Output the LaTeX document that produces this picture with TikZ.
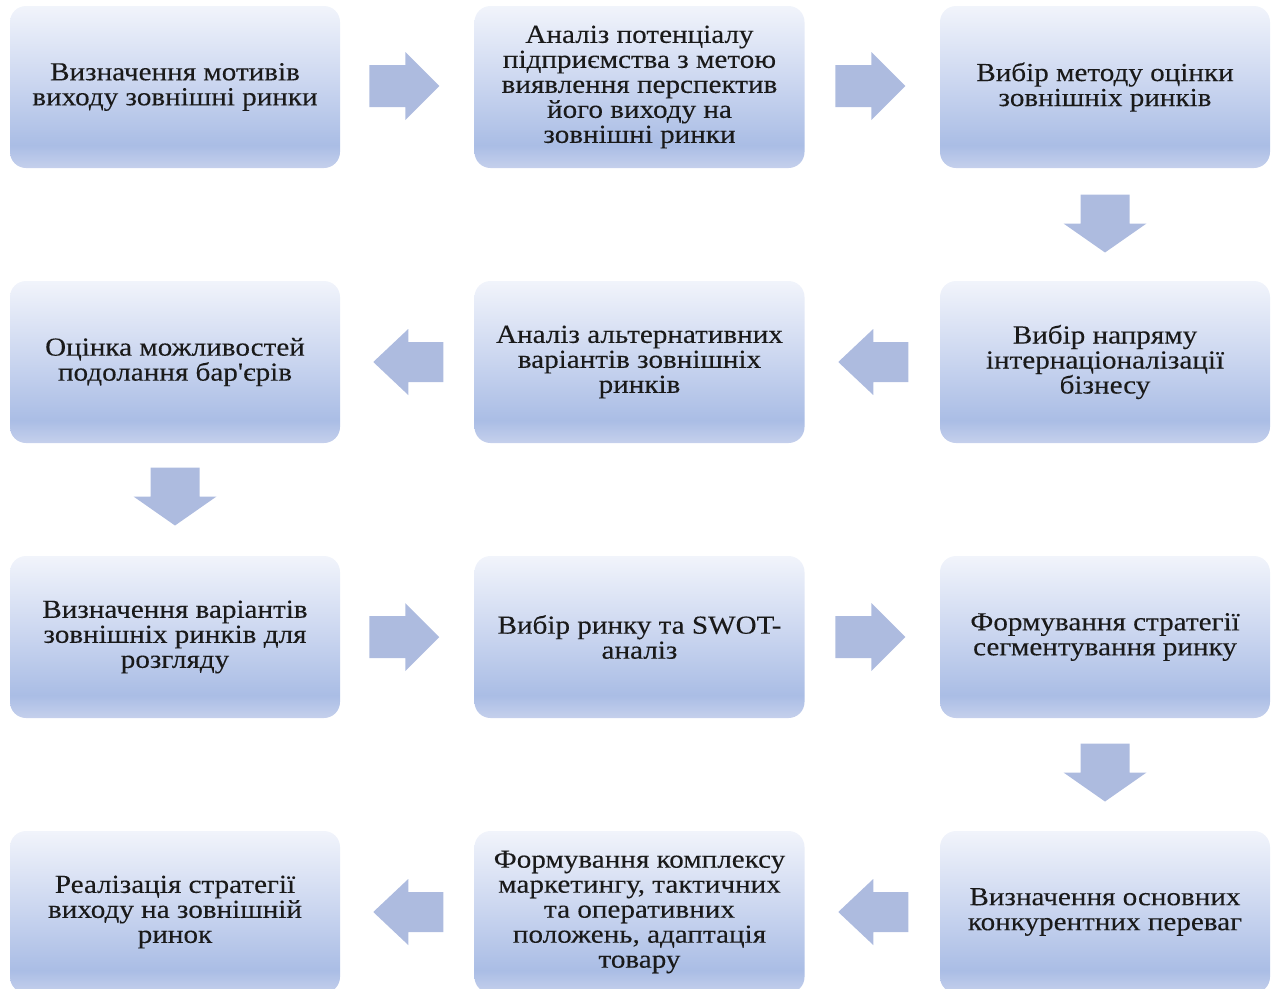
\documentclass[tikz,border=0pt]{standalone}
\usepackage{fontspec}
\newfontfamily\boxfont{Liberation Serif}[FakeStretch=1.12,FakeBold=0.15]
\usetikzlibrary{calc}
\definecolor{boxtop}{HTML}{F1F4FB}
\definecolor{boxmid}{HTML}{CCD7F0}
\definecolor{boxbot}{HTML}{AABDE5}
\definecolor{boxedge}{HTML}{C5D0EC}
\definecolor{arrowfill}{HTML}{ADBBDF}
\definecolor{txt}{HTML}{1A1A1A}
\pgfdeclareverticalshading{stageshade}{100bp}{color(0bp)=(boxedge); color(25bp)=(boxedge); color(32bp)=(boxbot); color(52bp)=(boxmid); color(75bp)=(boxtop); color(100bp)=(boxtop)}
\tikzset{
  stage/.style={rounded corners=16pt, minimum width=330pt, minimum height=162pt,
    shading=stageshade,
    align=center, text=txt, inner sep=0pt,
    font=\boxfont\fontsize{26}{25}\selectfont},
  rarrow/.pic={\fill[arrowfill] (-35,-21) -- (1,-21) -- (1,-34) -- (35,0) -- (1,34) -- (1,21) -- (-35,21) -- cycle;},
  larrow/.pic={\fill[arrowfill] (35,-20) -- (0,-20) -- (0,-33) -- (-35,0) -- (0,33) -- (0,20) -- (35,20) -- cycle;},
  darrow/.pic={\fill[arrowfill] (-24.5,-29) -- (24.5,-29) -- (24.5,0) -- (41.5,0) -- (0,29) -- (-41.5,0) -- (-24.5,0) -- cycle;}
}
\begin{document}
\begin{tikzpicture}[x=1pt,y=-1pt]
\useasboundingbox (0,0) rectangle (1273,988);
% row 1
\node[stage] (b1) at (175,87) {Визначення мотивів\\виходу зовнішні ринки};
\node[stage] (b2) at (639.5,87) {Аналіз потенціалу\\підприємства з метою\\виявлення перспектив\\його виходу на\\зовнішні ринки};
\node[stage] (b3) at (1105,87) {Вибір методу оцінки\\зовнішніх ринків};
% row 2
\node[stage] (b4) at (1105,362) {Вибір напряму\\інтернаціоналізації\\бізнесу};
\node[stage] (b5) at (639.5,362) {Аналіз альтернативних\\варіантів зовнішніх\\ринків};
\node[stage] (b6) at (175,362) {Оцінка можливостей\\подолання бар'єрів};
% row 3
\node[stage] (b7) at (175,637) {Визначення варіантів\\зовнішніх ринків для\\розгляду};
\node[stage] (b8) at (639.5,637) {Вибір ринку та SWOT-\\аналіз};
\node[stage] (b9) at (1105,637) {Формування стратегії\\сегментування ринку};
% row 4
\node[stage] (b10) at (1105,912) {Визначення основних\\конкурентних переваг};
\node[stage] (b11) at (639.5,912) {Формування комплексу\\маркетингу, тактичних\\та оперативних\\положень, адаптація\\товару};
\node[stage] (b12) at (175,912) {Реалізація стратегії\\виходу на зовнішній\\ринок};
% arrows
\pic at ($(b1.east)!0.5!(b2.west)+(-3,-1)$) {rarrow};
\pic at ($(b2.east)!0.5!(b3.west)+(-2,-1)$) {rarrow};
\pic at ($(b3.south)!0.5!(b4.north)+(0,-1)$) {darrow};
\pic at ($(b4.west)!0.5!(b5.east)+(1,0)$) {larrow};
\pic at ($(b5.west)!0.5!(b6.east)+(1,0)$) {larrow};
\pic at ($(b6.south)!0.5!(b7.north)+(0,-3)$) {darrow};
\pic at ($(b7.east)!0.5!(b8.west)+(-3,0)$) {rarrow};
\pic at ($(b8.east)!0.5!(b9.west)+(-2,0)$) {rarrow};
\pic at ($(b9.south)!0.5!(b10.north)+(0,-2)$) {darrow};
\pic at ($(b10.west)!0.5!(b11.east)+(1,0)$) {larrow};
\pic at ($(b11.west)!0.5!(b12.east)+(1,0)$) {larrow};
\end{tikzpicture}
\end{document}
